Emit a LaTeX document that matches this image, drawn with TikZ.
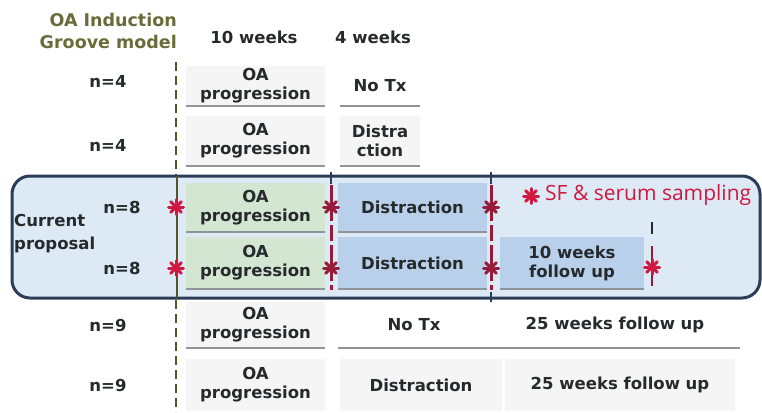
\documentclass[tikz,border=0pt]{standalone}
\usepackage{fontspec}
\setmainfont{DejaVu Sans}
\newfontfamily\legendfont{Open Sans}
\usepackage{xcolor}

\definecolor{inkdark}{HTML}{262A2C}
\definecolor{grooveolive}{HTML}{6B6B3A}
\definecolor{linegroove}{HTML}{55552A}
\definecolor{boxnavy}{HTML}{2B3D57}
\definecolor{boxfill}{HTML}{DDE9F5}
\definecolor{cellgreen}{HTML}{D2E6D2}
\definecolor{cellblue}{HTML}{B9D0EA}
\definecolor{cellgray}{HTML}{F5F5F5}
\definecolor{rulegray}{HTML}{8E949A}
\definecolor{sampred}{HTML}{D0173F}
\definecolor{darkred}{HTML}{951B39}

\tikzset{
  lbl/.style={font=\fontsize{16.5}{19}\selectfont\bfseries, text=inkdark, align=center, inner sep=0pt},
  cell/.style={lbl, minimum width=139, minimum height=44},
  rule/.style={draw=rulegray, line width=1.6pt},
  redcut/.style={draw=darkred, line width=3pt, dash pattern=on 16pt off 4pt},
  tick/.style={draw=boxnavy, line width=2.6pt},
  sampling/.pic={
    \foreach \a in {0,45,90,135}
      \draw[line width=3pt, line cap=round] (\a:7.5) -- (\a:-7.5);
  }
}

\begin{document}
\begin{tikzpicture}[x=1pt, y=-1pt]
  \useasboundingbox (0,0) rectangle (762,412);

  % Column headers
  \node[lbl, text=grooveolive, align=right, anchor=east, font=\fontsize{17.5}{22}\selectfont\bfseries] (groove) at (177,31) {OA Induction\\Groove model};
  \node[lbl] (wk10) at (254,37) {10 weeks};
  \node[lbl] (wk4) at (373,37) {4 weeks};

  % Start of the model, dashed
  \draw[linegroove, line width=2.6pt, dash pattern=on 9pt off 5pt] (176,62) -- (176,412);

  % Current proposal box
  \draw[boxnavy, fill=boxfill, line width=3pt, rounded corners=18pt] (12,176) rectangle (760,298);
  \draw[linegroove, line width=2.6pt] (177,176) -- (177,298);

  % Row labels
  \node[lbl] (n1) at (108,81) {n=4};
  \node[lbl] (n2) at (108,145) {n=4};
  \node[lbl] (n3) at (122,207) {n=8};
  \node[lbl] (n4) at (122,268) {n=8};
  \node[lbl] (n5) at (108,325) {n=9};
  \node[lbl] (n6) at (108,385) {n=9};
  \node[lbl, align=left, anchor=west, font=\fontsize{16.5}{23}\selectfont\bfseries] (current) at (14,234) {Current\\proposal};

  % Treatment cells
  \node[cell, fill=cellgray, minimum height=40] (prog1) at (255.5,86) {OA\\progression};
  \node[cell, minimum width=80, minimum height=40] (notx1) at (380,86) {No Tx};
  \node[cell, fill=cellgray, minimum height=50] (prog2) at (255.5,141) {OA\\progression};
  \node[cell, fill=cellgray, minimum width=80, minimum height=50] (dist2) at (380,141) {Distra\\ction};
  \node[cell, fill=cellgreen, minimum height=49] (prog3) at (255.5,207.5) {OA\\progression};
  \node[cell, fill=cellblue, minimum width=149, minimum height=49] (dist3) at (412.5,207.5) {Distraction};
  \node[cell, fill=cellgreen, minimum height=52] (prog4) at (255.5,263) {OA\\progression};
  \node[cell, fill=cellblue, minimum width=149, minimum height=52] (dist4) at (412.5,263) {Distraction};
  \node[cell, fill=cellblue, minimum width=144, minimum height=52] (fup4) at (572,263) {10 weeks\\follow up};
  \node[cell, fill=cellgray, minimum height=46] (prog5) at (255.5,325) {OA\\progression};
  \node[cell, minimum width=152, minimum height=46] (notx5) at (414,325) {No Tx};
  \node[cell, minimum width=250, minimum height=46] (fup5) at (615,325) {25 weeks follow up};
  \node[cell, fill=cellgray, minimum height=52] (prog6) at (255.5,385) {OA\\progression};
  \node[cell, fill=cellgray, minimum width=162, minimum height=52] (dist6) at (421,385) {Distraction};
  \node[cell, fill=cellgray, minimum width=230, minimum height=52] (fup6) at (620,385) {25 weeks follow up};

  % Grey rules under the cells
  \foreach \c in {prog1,notx1,prog2,dist2,prog3,dist3,prog4,dist4,fup4,prog5}
    \draw[rule] (\c.south west) -- (\c.south east);
  \draw[rule] (notx5.south west) -- (fup5.south east);

  % Sampling time points
  \draw[redcut] (331,185) -- (331,290);
  \draw[redcut] (491,185) -- (491,290);
  \draw[tick] (331,172) -- (331,184);
  \draw[tick] (491,172) -- (491,184);
  \draw[tick] (491,292) -- (491,302);
  \foreach \y in {207,268} {
    \pic[color=sampred] at (176,\y) {sampling};
    \pic[color=darkred] at (331,\y) {sampling};
    \pic[color=darkred] at (491,\y) {sampling};
  }
  \draw[inkdark, line width=2.6pt] (652,222) -- (652,234);
  \draw[darkred, line width=2.6pt] (652,246) -- (652,286);
  \pic[color=sampred] at (652,267) {sampling};

  % Legend
  \pic[color=sampred] at (531,196) {sampling};
  \node[anchor=west, inner sep=0pt, text=sampred, font=\legendfont\fontsize{21}{24}\selectfont] (legend) at (545,195) {SF \& serum sampling};
\end{tikzpicture}
\end{document}
